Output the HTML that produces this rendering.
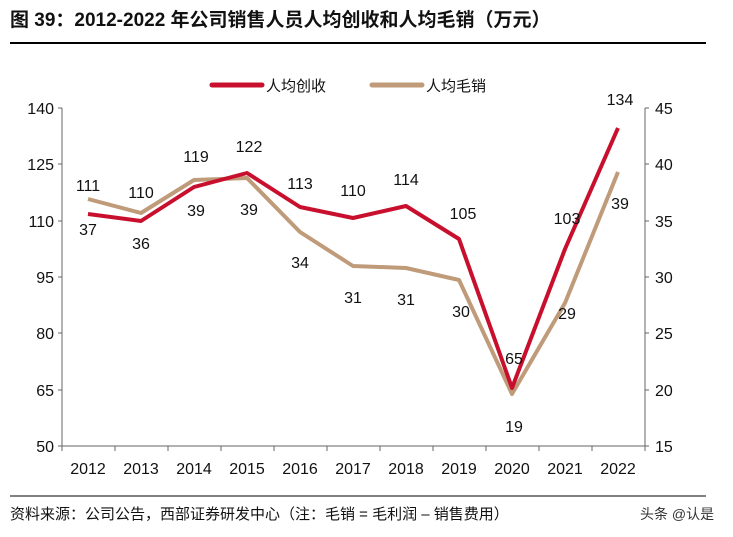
<!DOCTYPE html>
<html><head><meta charset="utf-8"><style>
body{margin:0;background:#fff;}
</style></head><body>
<svg width="733" height="532" xmlns="http://www.w3.org/2000/svg" font-family="'Liberation Sans','Noto Sans CJK SC',sans-serif">
<text x="10" y="26" font-size="19" fill="#111" font-weight="600">图 39：2012-2022 年公司销售人员人均创收和人均毛销（万元）</text>
<line x1="10" y1="43" x2="706" y2="43" stroke="#000" stroke-width="2"/>
<line x1="212" y1="85" x2="262" y2="85" stroke="#c8102e" stroke-width="5" stroke-linecap="round"/>
<text x="266" y="91" font-size="15" fill="#111">人均创收</text>
<line x1="372" y1="85" x2="422" y2="85" stroke="#bf9b7a" stroke-width="5" stroke-linecap="round"/>
<text x="426" y="91" font-size="15" fill="#111">人均毛销</text>
<g stroke="#666" stroke-width="1" fill="none">
<line x1="62" y1="108" x2="62" y2="446"/>
<line x1="645" y1="108" x2="645" y2="446"/>
<line x1="62" y1="446" x2="645" y2="446"/>
<path d="M58 108H62M58 164H62M58 221H62M58 277H62M58 333H62M58 390H62M58 446H62"/>
<path d="M645 108H649M645 164H649M645 221H649M645 277H649M645 333H649M645 390H649M645 446H649"/>
<path d="M62 446V451M115 446V451M168 446V451M221 446V451M274 446V451M327 446V451M380 446V451M433 446V451M486 446V451M539 446V451M592 446V451M645 446V451"/>
</g>
<g font-size="16" fill="#111" text-anchor="end">
<text x="54" y="114">140</text><text x="54" y="170">125</text><text x="54" y="227">110</text><text x="54" y="283">95</text><text x="54" y="339">80</text><text x="54" y="396">65</text><text x="54" y="452">50</text>
</g>
<g font-size="16" fill="#111">
<text x="655" y="114">45</text><text x="655" y="170">40</text><text x="655" y="227">35</text><text x="655" y="283">30</text><text x="655" y="339">25</text><text x="655" y="396">20</text><text x="655" y="452">15</text>
</g>
<g font-size="16" fill="#111" text-anchor="middle">
<text x="88" y="474">2012</text><text x="141" y="474">2013</text><text x="194" y="474">2014</text><text x="247" y="474">2015</text><text x="300" y="474">2016</text><text x="353" y="474">2017</text><text x="406" y="474">2018</text><text x="459" y="474">2019</text><text x="512" y="474">2020</text><text x="565" y="474">2021</text><text x="618" y="474">2022</text>
</g>
<polyline fill="none" stroke="#bf9b7a" stroke-width="4" stroke-linejoin="round" points="88,199 141,213 194,180 247,178 300,232 353,266 406,268 459,280 512,394 565,303 618,172"/>
<polyline fill="none" stroke="#c8102e" stroke-width="4" stroke-linejoin="round" points="88,214 141,221 194,187 247,173 300,207 353,218 406,206 459,239 512,388 565,249 618,128"/>
<g font-size="16" fill="#111" text-anchor="middle">
<text x="88" y="191">111</text><text x="141" y="198">110</text><text x="196" y="162">119</text><text x="249" y="152">122</text><text x="300" y="189">113</text><text x="353" y="196">110</text><text x="406" y="185">114</text><text x="463" y="219">105</text><text x="514" y="364">65</text><text x="567" y="224">103</text><text x="620" y="105">134</text>
<text x="88" y="235">37</text><text x="141" y="249">36</text><text x="196" y="216">39</text><text x="249" y="215">39</text><text x="300" y="268">34</text><text x="353" y="303">31</text><text x="406" y="305">31</text><text x="461" y="317">30</text><text x="514" y="432">19</text><text x="567" y="319">29</text><text x="620" y="209">39</text>
</g>
<line x1="10" y1="496" x2="706" y2="496" stroke="#000" stroke-width="1"/>
<text x="10" y="519" font-size="15" fill="#111">资料来源：公司公告，西部证券研发中心（注：毛销 = 毛利润 – 销售费用）</text>
<text x="640" y="519" font-size="14" fill="#333">头条 @认是</text>
</svg>
</body></html>
